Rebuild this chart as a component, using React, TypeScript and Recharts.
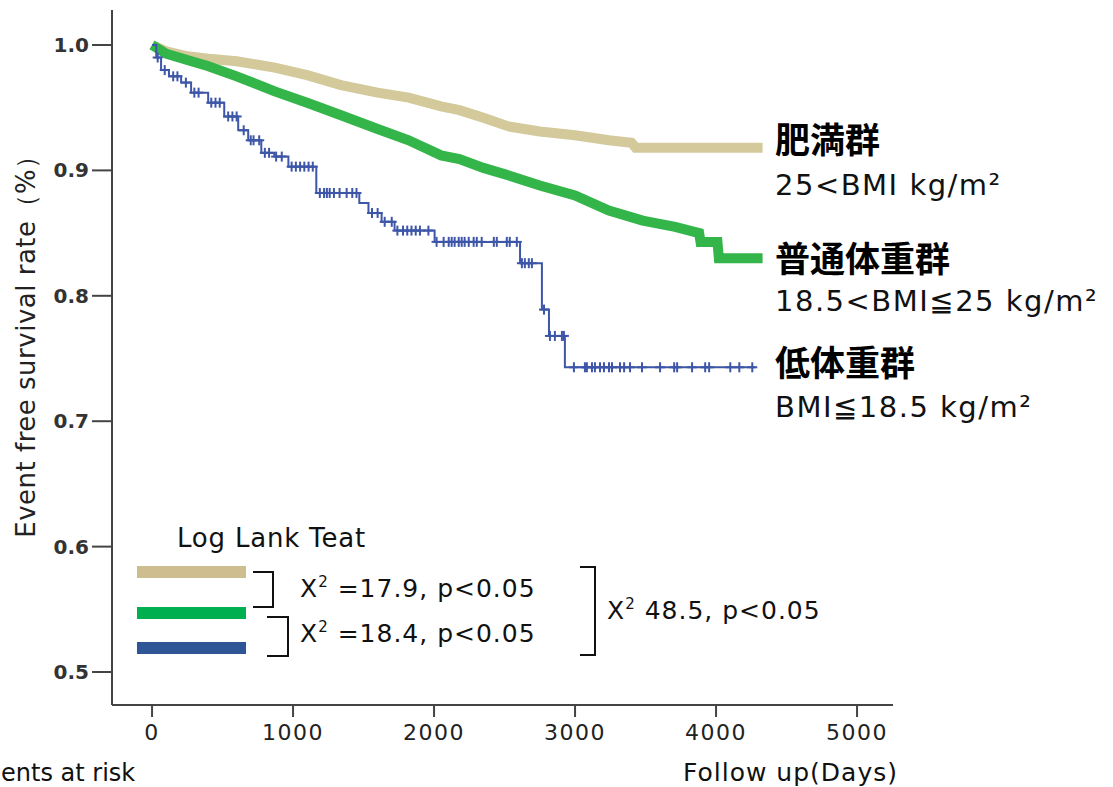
import { ComposedChart, Line, Scatter, XAxis, YAxis } from "recharts";

const dayTicks = [0, 1000, 2000, 3000, 4000, 5000];
const rateTicks = [0.5, 0.6, 0.7, 0.8, 0.9, 1.0];

// 肥満群
const obeseDays = [0, 100, 250, 400, 600, 870, 1100, 1340, 1600, 1820, 2050, 2180, 2350, 2530, 2750, 3000, 3240, 3400, 3430, 4330];
const obeseRate = [1.0, 0.995, 0.991, 0.989, 0.987, 0.982, 0.976, 0.968, 0.962, 0.958, 0.951, 0.948, 0.942, 0.935, 0.931, 0.928, 0.924, 0.922, 0.918, 0.918];

// 普通体重群
const normalDays = [0, 100, 250, 400, 600, 870, 1100, 1340, 1600, 1820, 2050, 2180, 2350, 2530, 2750, 3000, 3240, 3480, 3710, 3880, 3890, 4010, 4020, 4330];
const normalRate = [1.0, 0.993, 0.988, 0.983, 0.975, 0.963, 0.954, 0.944, 0.933, 0.924, 0.912, 0.909, 0.902, 0.896, 0.888, 0.88, 0.868, 0.86, 0.855, 0.85, 0.843, 0.843, 0.83, 0.83];

// 低体重群
const underDays = [0, 30, 64, 120, 206, 277, 398, 512, 611, 682, 775, 867, 967, 1165, 1470, 1535, 1628, 1720, 2004, 2610, 2765, 2815, 2928, 4280];
const underRate = [1.0, 0.99, 0.98, 0.975, 0.97, 0.962, 0.954, 0.943, 0.932, 0.924, 0.914, 0.911, 0.903, 0.882, 0.874, 0.866, 0.859, 0.852, 0.843, 0.826, 0.789, 0.768, 0.743, 0.743];
const underCensored = [
  40, 90, 150, 180, 240, 300, 330, 420, 450, 480, 540, 570, 600, 650, 700, 720, 760, 800, 830, 880, 920,
  990, 1020, 1050, 1080, 1110, 1140, 1190, 1220, 1240, 1260, 1290, 1330, 1380, 1420, 1450, 1560, 1600,
  1650, 1700, 1740, 1780, 1810, 1840, 1870, 1900, 1960, 2018, 2068, 2104, 2125, 2146, 2175, 2196, 2217,
  2246, 2281, 2303, 2338, 2424, 2445, 2516, 2537, 2587, 2623, 2644, 2672, 2694, 2780, 2822, 2857, 2907,
  2921, 2992, 3070, 3084, 3120, 3141, 3177, 3205, 3241, 3262, 3319, 3348, 3390, 3475, 3603, 3703, 3724,
  3830, 3923, 3951, 4101, 4165, 4257,
];

const TAN = "#d3c99b";
const GREEN = "#34b54a";
const BLUE = "#3d56a8";
const AXIS = "#444";
const LATIN = "'DejaVu Sans', Verdana, sans-serif";
const CJK = "'Noto Sans CJK JP', sans-serif";

const toRows = (days: number[], rate: number[]) => days.map((d, i) => ({ day: d, rate: rate[i] }));

// step-function lookup so censor marks sit on the curve
const rateAt = (days: number[], rate: number[], t: number) => {
  let r = rate[0];
  for (let i = 0; i < days.length; i++) if (days[i] <= t) r = rate[i];
  return r;
};

const censorRows = underCensored.map((d) => ({ day: d, rate: rateAt(underDays, underRate, d) }));

const Cross = (props: any) => {
  const { cx, cy } = props;
  if (cx == null || cy == null) return null;
  return (
    <g stroke={BLUE} strokeWidth={2}>
      <line x1={cx - 5} x2={cx + 5} y1={cy} y2={cy} />
      <line x1={cx} x2={cx} y1={cy - 5} y2={cy + 5} />
    </g>
  );
};

const Chi = ({ x, y, text }: { x: number; y: number; text: string }) => (
  <text x={x} y={y} fontSize={25} letterSpacing={1} fontFamily={LATIN} fill="#111">
    Χ<tspan fontSize={15} dy={-10}>2</tspan>
    <tspan dy={10}>{text}</tspan>
  </text>
);

export default function App() {
  return (
    <div style={{ position: "absolute", left: 0, top: 0, width: 1113, height: 787, background: "#fff" }}>
      <ComposedChart width={1113} height={787} margin={{ top: 10, right: 220, bottom: 52, left: 52 }}>
        <XAxis
          type="number"
          dataKey="day"
          domain={[-284, 5255]}
          ticks={dayTicks}
          interval={0}
          allowDataOverflow
          height={30}
          tickSize={12}
          tickMargin={7}
          axisLine={{ stroke: AXIS, strokeWidth: 2 }}
          tickLine={{ stroke: AXIS, strokeWidth: 2 }}
          tick={{ fontSize: 22, fill: "#222", fontFamily: LATIN, letterSpacing: 1.5 }}
        />
        <YAxis
          type="number"
          domain={[0.4737, 1.0279]}
          ticks={rateTicks}
          interval={0}
          allowDataOverflow
          width={60}
          tickSize={20}
          tickMargin={3}
          tickFormatter={(v) => Number(v).toFixed(1)}
          axisLine={{ stroke: AXIS, strokeWidth: 2 }}
          tickLine={{ stroke: AXIS, strokeWidth: 2 }}
          tick={{ fontSize: 20, fill: "#333", fontFamily: LATIN, fontWeight: "bold" }}
        />
        <Line data={toRows(obeseDays, obeseRate)} dataKey="rate" type="linear" stroke={TAN} strokeWidth={10} dot={false} isAnimationActive={false} />
        <Line data={toRows(normalDays, normalRate)} dataKey="rate" type="linear" stroke={GREEN} strokeWidth={10} dot={false} isAnimationActive={false} />
        <Line data={toRows(underDays, underRate)} dataKey="rate" type="stepAfter" stroke={BLUE} strokeWidth={2} dot={false} isAnimationActive={false} />
        <Scatter data={censorRows} dataKey="rate" shape={Cross} isAnimationActive={false} />
      </ComposedChart>

      <svg width={1113} height={787} style={{ position: "absolute", left: 0, top: 0, pointerEvents: "none" }}>
        <text transform="translate(26,340) rotate(-90)" textAnchor="middle" dominantBaseline="central" fontSize={26} letterSpacing={0.5} fontFamily={LATIN} fill="#222">
          Event free survival rate（%）
        </text>
        <text x={1} y={781} fontSize={24} fontFamily={LATIN} fill="#111">ents at risk</text>
        <text x={683} y={781} fontSize={25} letterSpacing={1} fontFamily={LATIN} fill="#111">Follow up(Days)</text>

        <g fontFamily={CJK} fontWeight={700} fontSize={35} fill="#000">
          <text x={775} y={153}>肥満群</text>
          <text x={775} y={272}>普通体重群</text>
          <text x={775} y={376}>低体重群</text>
        </g>
        <g fontFamily={LATIN} fontSize={29} letterSpacing={1.5} fill="#111">
          <text x={775} y={195}>25&lt;BMI kg/m²</text>
          <text x={775} y={311}>18.5&lt;BMI≦25 kg/m²</text>
          <text x={775} y={417}>BMI≦18.5 kg/m²</text>
        </g>

        <text x={177} y={547} fontSize={26} letterSpacing={0.8} fontFamily={LATIN} fill="#111">Log Lank Teat</text>
        <rect x={137} y={566} width={109} height={12} fill="#cdbd8f" />
        <rect x={137} y={607} width={109} height={12} fill="#00b050" />
        <rect x={137} y={642} width={109} height={12} fill="#2f5597" />
        <g fill="none" stroke="#111" strokeWidth={2}>
          <polyline points="253,572 273,572 273,607 253,607" />
          <polyline points="267,617 288,617 288,656 267,656" />
          <polyline points="580,567 595,567 595,655 580,655" />
        </g>
        <Chi x={300} y={597} text=" =17.9, p<0.05" />
        <Chi x={300} y={642} text=" =18.4, p<0.05" />
        <Chi x={607} y={619} text=" 48.5, p<0.05" />
      </svg>
    </div>
  );
}
